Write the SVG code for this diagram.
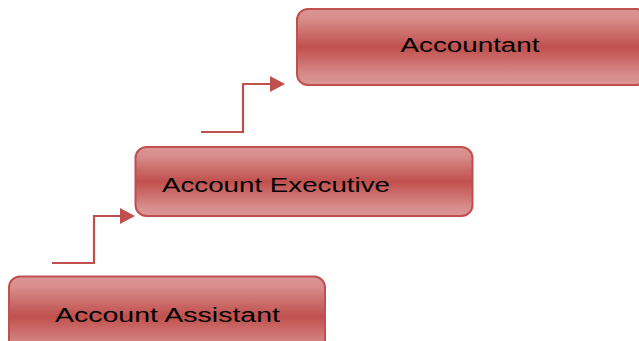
<svg xmlns="http://www.w3.org/2000/svg" width="639" height="341" viewBox="0 0 639 341">
<defs>
<linearGradient id="g" x1="0" y1="0" x2="0" y2="1">
<stop offset="0" stop-color="#da9695"/>
<stop offset="0.12" stop-color="#d88e8d"/>
<stop offset="0.5" stop-color="#c0504d"/>
<stop offset="0.88" stop-color="#d88e8d"/>
<stop offset="1" stop-color="#da9695"/>
</linearGradient>
<marker id="arr" viewBox="0 0 10 10" refX="10" refY="5" markerWidth="7.5" markerHeight="7.5" markerUnits="userSpaceOnUse" orient="auto">
<path d="M0,0 L10,5 L0,10 Z" fill="#c0504d"/>
</marker>
</defs>
<style>
.box{fill:url(#g);stroke:#c0504d;stroke-width:2}
.lbl{font-family:"Comic Sans MS","Liberation Sans","DejaVu Sans",sans-serif;font-size:20px;fill:#000}
.con{fill:none;stroke:#c0504d;stroke-width:2.2}
</style>
<g id="connectors">
<path class="con" d="M201,132 H243 V84 H272" />
<path d="M270,76 L285,84 L270,92 Z" fill="#c0504d"/>
<path class="con" d="M52,263 H94 V216 H122" />
<path d="M120,208 L135,216 L120,224 Z" fill="#c0504d"/>
</g>
<g id="accountant">
<rect class="box" x="297" y="9" width="350" height="76" rx="11"/>
<text class="lbl" x="470" y="52" text-anchor="middle" textLength="139" lengthAdjust="spacingAndGlyphs">Accountant</text>
</g>
<g id="account-executive">
<rect class="box" x="135.5" y="147" width="337" height="69" rx="11"/>
<text class="lbl" x="162" y="192" textLength="228" lengthAdjust="spacingAndGlyphs">Account Executive</text>
</g>
<g id="account-assistant">
<rect class="box" x="9" y="276.5" width="316" height="80" rx="11"/>
<text class="lbl" x="55" y="322" textLength="225" lengthAdjust="spacingAndGlyphs">Account Assistant</text>
</g>
</svg>
